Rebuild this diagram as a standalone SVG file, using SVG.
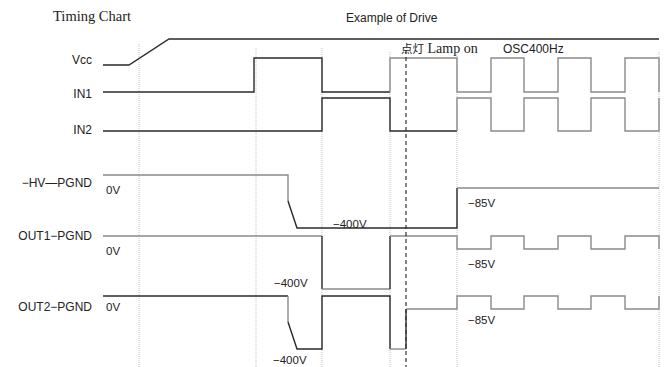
<svg xmlns="http://www.w3.org/2000/svg" width="667" height="367" viewBox="0 0 667 367">
<style>
.bg{fill:#fff}
.grid{stroke:#c4c4c4;stroke-width:1;stroke-dasharray:1,1;fill:none}
.dash{stroke:#333;stroke-width:1.2;stroke-dasharray:4,3;fill:none}
.dk{stroke:#2a2a2a;stroke-width:1.4;fill:none;stroke-linejoin:miter}
.gy{stroke:#8a8a8a;stroke-width:1.4;fill:none;stroke-linejoin:miter}
.lbl{font-family:"Liberation Sans",Arial,sans-serif;font-size:12px;fill:#222;text-anchor:end}
.val{font-family:"Liberation Sans",Arial,sans-serif;font-size:11.5px;fill:#222}
.ttl{font-family:"Liberation Serif","Times New Roman",serif;font-size:14.5px;fill:#222}
.sans{font-family:"Liberation Sans",Arial,sans-serif;font-size:12px;fill:#222}
</style>
<rect class="bg" x="0" y="0" width="667" height="367"/>
<g id="grid">
<line class="grid" x1="139" y1="44" x2="139" y2="367"/>
<line class="grid" x1="256" y1="48" x2="256" y2="367"/>
<line class="grid" x1="322" y1="48" x2="322" y2="367"/>
<line class="grid" x1="390" y1="52" x2="390" y2="367"/>
<line class="grid" x1="457" y1="52" x2="457" y2="367"/>
<line class="grid" x1="659" y1="52" x2="659" y2="367"/>
</g>
<g id="titles">
<text class="ttl" x="53" y="21">Timing Chart</text>
<text class="sans" x="346" y="22">Example of Drive</text>
<text x="401" y="53" style="font-family:'Liberation Serif','Noto Sans CJK JP',serif;font-size:14px;fill:#222"><tspan style="font-family:'Noto Sans CJK JP',sans-serif;font-size:11.5px">点灯</tspan> Lamp on</text>
<text class="sans" x="503" y="53">OSC400Hz</text>
</g>
<g id="labels">
<text class="lbl" x="92" y="63.5">Vcc</text>
<text class="lbl" x="92" y="97.5">IN1</text>
<text class="lbl" x="92" y="133.5">IN2</text>
<text class="lbl" x="92" y="186.5">−HV—PGND</text>
<text class="lbl" x="92" y="240">OUT1−PGND</text>
<text class="lbl" x="92" y="311">OUT2−PGND</text>
</g>
<g id="values">
<text class="val" x="106" y="193.5">0V</text>
<text class="val" x="106" y="254.5">0V</text>
<text class="val" x="106" y="311">0V</text>
<text class="val" x="333" y="227.5">−400V</text>
<text class="val" x="274" y="287">−400V</text>
<text class="val" x="273" y="364">−400V</text>
<text class="val" x="468" y="207">−85V</text>
<text class="val" x="468" y="267.5">−85V</text>
<text class="val" x="468" y="324">−85V</text>
</g>
<g id="connectors">
<g id="vcc">
<polyline class="dk" points="103,65 129,65 169,39 659,39"/>
</g>
<g id="in1">
<polyline class="dk" points="103,92 254,92 254,58 322,58 322,92 390,92"/>
<polyline class="gy" points="390,92 390,58 457,58 457,92 491,92 491,58 524,58 524,92 558,92 558,58 591,58 591,92 625,92 625,58 659,58 659,92"/>
</g>
<g id="in2">
<polyline class="dk" points="103,131 322,131 322,98 390,98 390,131 457,131"/>
<polyline class="gy" points="457,131 457,98 491,98 491,131 524,131 524,98 558,98 558,131 591,131 591,98 625,98 625,131 659,131 659,98"/>
</g>
<g id="hv">
<polyline class="gy" points="103,175 288,175 288,201"/>
<polyline class="dk" points="288,201 297,228 457,228 457,188"/>
<polyline class="gy" points="457,188 659,188"/>
</g>
<g id="out1">
<polyline class="gy" points="103,236 322,236"/>
<polyline class="dk" points="322,236 322,289"/>
<polyline class="gy" points="322,289 390,289"/>
<polyline class="dk" points="390,289 390,236"/>
<polyline class="gy" points="390,236 457,236 457,249 491,249 491,236 524,236 524,249 558,249 558,236 591,236 591,249 625,249 625,236 659,236 659,249"/>
</g>
<g id="out2">
<polyline class="dk" points="103,296 288,296"/>
<polyline class="gy" points="288,296 288,322"/>
<polyline class="dk" points="288,322 297,349 322,349 322,296 390,296 390,349"/>
<polyline class="gy" points="390,349 406,349"/>
<polyline class="dk" points="406,349 406,309"/>
<polyline class="gy" points="406,309 457,309 457,296 491,296 491,309 524,309 524,296 558,296 558,309 591,309 591,296 625,296 625,309 659,309 659,296"/>
</g>
<g id="lamp-on">
<line class="dash" x1="406" y1="50" x2="406" y2="367"/>
</g>
</g>
</svg>
